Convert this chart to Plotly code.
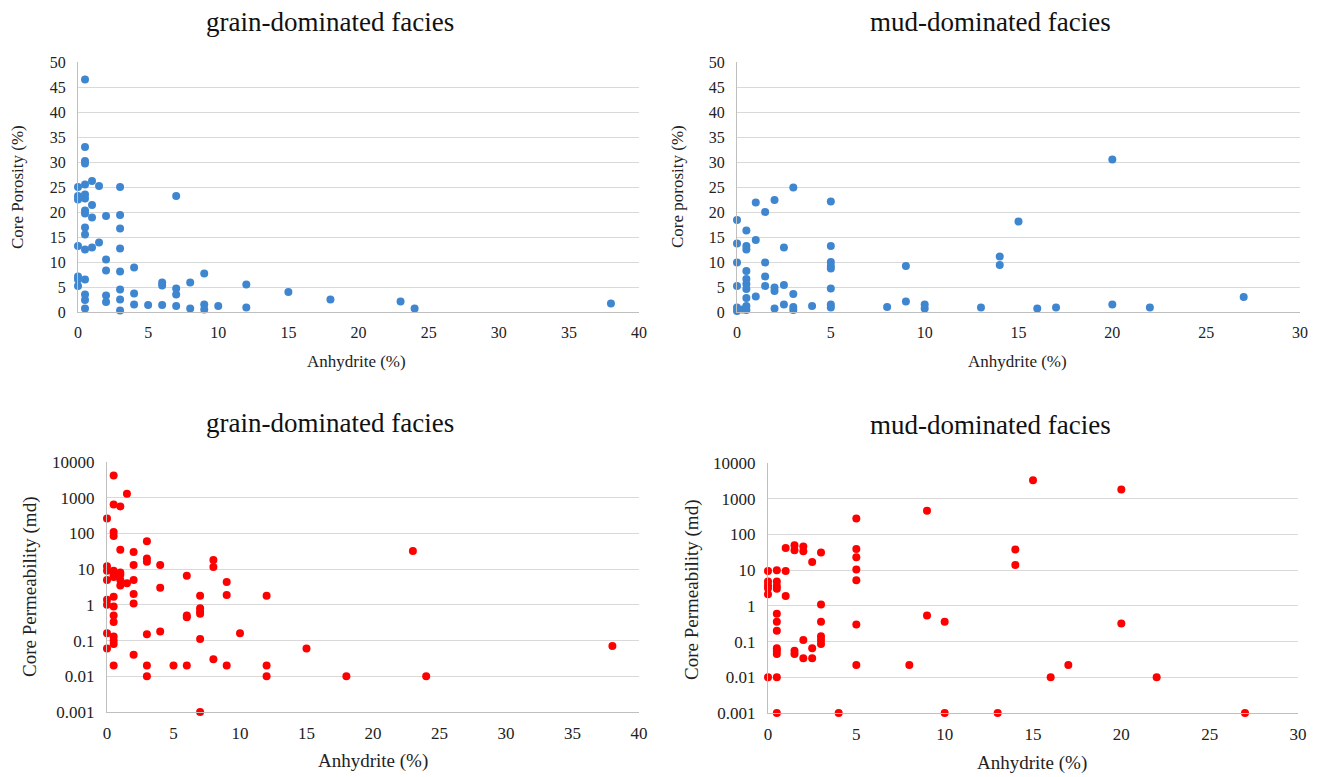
import plotly.graph_objects as go

# page is 1318x777 and the figure sits 8px in (default body margin)
OFF = 8
W, H = 1318 - OFF, 777 - OFF

# ---------------- data ----------------
grain_por_x = [0.5, 0.5, 0.5, 0.5, 0, 0.5, 1, 1.5, 3, 0, 0, 0.5, 0.5, 7, 1, 0.5, 0.5, 1, 2, 3,
               0.5, 0.5, 3, 0, 0.5, 1, 1.5, 3, 2, 2, 3, 4, 0, 0, 0, 0.5, 9, 6, 6, 8,
               7, 7, 3, 4, 0.5, 0.5, 2, 2, 3, 4, 5, 6, 7, 8, 9, 9, 10, 0.5, 3, 12,
               12, 15, 18, 23, 24, 38]
grain_por_y = [46.5, 33, 30.2, 29.7, 25, 25.5, 26.2, 25.2, 25, 23.2, 22.5, 23.5, 22.7, 23.2, 21.4, 20.3, 19.7, 18.9, 19.2, 19.4,
               16.9, 15.5, 16.7, 13.2, 12.5, 12.9, 13.9, 12.7, 10.5, 8.3, 8.1, 8.9, 7.1, 6.5, 5.2, 6.5, 7.7, 5.9, 5.3, 5.9,
               4.7, 3.5, 4.5, 3.7, 3.5, 2.4, 3.3, 2.0, 2.5, 1.5, 1.4, 1.4, 1.2, 0.7, 1.5, 0.5, 1.2, 0.7, 0.3, 5.5,
               0.9, 4.0, 2.5, 2.1, 0.7, 1.7]

mud_por_x = [0, 0.5, 0, 0.5, 0.5, 1, 1, 1.5, 2, 3, 5, 0, 1.5, 2.5, 5, 5, 5, 5, 0.5, 0.5,
             0.5, 0.5, 0.5, 0, 1.5, 1.5, 2, 2, 2.5, 3, 1, 5, 0, 0, 0.3, 0.5, 0.5, 2, 2.5, 3,
             3, 4, 5, 5, 8, 9, 9, 10, 10, 13, 14, 14, 15, 16, 17, 20, 20, 22, 27]
mud_por_y = [18.4, 16.3, 13.7, 13.2, 12.5, 21.9, 14.4, 20.0, 22.4, 24.9, 22.1, 9.9, 9.9, 12.9, 13.2, 10.0, 9.2, 8.7, 8.2, 6.6,
             5.6, 4.6, 2.8, 5.2, 7.1, 5.2, 4.9, 4.2, 5.4, 3.6, 3.1, 4.7, 0.9, 0.2, 0.5, 1.2, 0.4, 0.7, 1.5, 1.0,
             0.4, 1.2, 1.5, 0.9, 1.0, 2.1, 9.2, 1.5, 0.7, 0.9, 11.1, 9.4, 18.1, 0.7, 0.9, 30.5, 1.5, 0.9, 3.0]

grain_perm_x = [0.5, 0.5, 1, 1.5, 0, 0.5, 0.5, 1, 2, 3, 3, 3, 2, 4, 0, 0, 0, 0.5, 0.5, 0.5,
                1, 1, 1, 1.5, 1, 2, 4, 6, 8, 8, 9, 9, 2, 2, 0, 0, 0.5, 0.5, 0.5, 0.5,
                7, 7, 7, 7, 6, 6, 0, 0.5, 0.5, 0.5, 3, 4, 7, 10, 0, 2, 0.5, 3, 3, 5,
                6, 8, 9, 7, 12, 12, 12, 15, 18, 23, 24, 38]
grain_perm_y = [4200, 650, 570, 1300, 260, 110, 85, 35, 30, 60, 20, 16, 13, 13, 12, 9, 5, 9, 7, 6,
                8, 7, 5, 4, 3.5, 5, 3, 6.5, 18, 11.5, 4.4, 1.9, 2, 1.1, 1.4, 1, 1.7, 0.9, 0.5, 0.33,
                1.8, 0.8, 0.65, 0.56, 0.5, 0.45, 0.16, 0.13, 0.1, 0.08, 0.15, 0.18, 0.11, 0.16, 0.06, 0.04, 0.02, 0.02, 0.01, 0.02,
                0.02, 0.03, 0.02, 0.001, 1.8, 0.02, 0.01, 0.06, 0.01, 32, 0.01, 0.07]

mud_perm_x = [0, 0, 0, 0, 0, 0.5, 0.5, 0.5, 0.5, 1, 1, 1, 1.5, 1.5, 2, 2, 2.5, 3, 5, 5,
              5, 5, 5, 3, 0.5, 0.5, 0.5, 3, 5, 3, 3, 3, 2, 0.5, 0.5, 0.5, 1.5, 1.5, 2, 2.5,
              2.5, 5, 8, 0, 0.5, 0.5, 4, 15, 20, 9, 14, 14, 9, 10, 20, 16, 17, 22, 10, 13,
              27]
mud_perm_y = [9.4, 4.8, 3.8, 3.1, 2.1, 10, 4.8, 3.6, 3.0, 9.5, 1.9, 42, 50, 36, 46, 34, 17, 31, 280, 39,
              23, 10.5, 5.2, 1.1, 0.6, 0.36, 0.2, 0.36, 0.3, 0.14, 0.11, 0.085, 0.11, 0.065, 0.055, 0.045, 0.055, 0.045, 0.034, 0.065,
              0.034, 0.022, 0.022, 0.01, 0.01, 0.001, 0.001, 3300, 1800, 460, 38, 14, 0.54, 0.36, 0.32, 0.01, 0.022, 0.01, 0.001, 0.001,
              0.001]

por_ticks = [0, 5, 10, 15, 20, 25, 30, 35, 40, 45, 50]
perm_tickvals = [0.001, 0.01, 0.1, 1, 10, 100, 1000, 10000]
perm_ticktext = ["0.001", "0.01", "0.1", "1", "10", "100", "1000", "10000"]

titles = ["grain-dominated facies", "mud-dominated facies", "grain-dominated facies", "mud-dominated facies"]
xtitle = "Anhydrite (%)"
ytitles = ["Core Porosity (%)", "Core porosity (%)", "Core Permeability (md)", "Core Permeability (md)"]

# ---------------- styling ----------------
FONT = "Times New Roman, Liberation Serif, serif"
BLUE = "#3f86d0"
RED = "#ff0000"
GRID = "#d9d9d9"


def px_x(p):
    return (p - OFF) / W


def px_y(p):
    return 1 - (p - OFF) / H


def xd(a, b):
    return [px_x(a), px_x(b)]


def yd(top, bottom):
    return [px_y(bottom), px_y(top)]


fig = go.Figure()

fig.add_trace(go.Scatter(x=grain_por_x, y=grain_por_y, mode="markers", xaxis="x", yaxis="y",
                         marker=dict(color=BLUE, size=8), cliponaxis=False, showlegend=False))
fig.add_trace(go.Scatter(x=mud_por_x, y=mud_por_y, mode="markers", xaxis="x2", yaxis="y2",
                         marker=dict(color=BLUE, size=8), cliponaxis=False, showlegend=False))
fig.add_trace(go.Scatter(x=grain_perm_x, y=grain_perm_y, mode="markers", xaxis="x3", yaxis="y3",
                         marker=dict(color=RED, size=8), cliponaxis=False, showlegend=False))
fig.add_trace(go.Scatter(x=mud_perm_x, y=mud_perm_y, mode="markers", xaxis="x4", yaxis="y4",
                         marker=dict(color=RED, size=8), cliponaxis=False, showlegend=False))

top_tick = dict(family=FONT, size=16, color="#222")
bot_tick = dict(family=FONT, size=17, color="#222")

common_x = dict(showgrid=False, zeroline=False, showline=True, linecolor="#bfbfbf", linewidth=1,
                ticks="", dtick=5, tick0=0, ticklabelstandoff=6, automargin=False)
common_y = dict(showgrid=True, gridcolor=GRID, gridwidth=1, zeroline=False, showline=True,
                linecolor="#bfbfbf", linewidth=1, ticks="", ticklabelstandoff=8, automargin=False)

fig.update_layout(
    width=W, height=H, autosize=False,
    margin=dict(l=0, r=0, t=0, b=0, pad=0, autoexpand=False),
    paper_bgcolor="white", plot_bgcolor="white",
    xaxis=dict(domain=xd(78, 639), range=[0, 40], anchor="y", tickfont=top_tick, **common_x),
    yaxis=dict(domain=yd(62, 312), range=[0, 50], anchor="x", tickvals=por_ticks, tickfont=top_tick, **common_y),
    xaxis2=dict(domain=xd(737, 1300), range=[0, 30], anchor="y2", tickfont=top_tick, **common_x),
    yaxis2=dict(domain=yd(62, 312), range=[0, 50], anchor="x2", tickvals=por_ticks, tickfont=top_tick, **common_y),
    xaxis3=dict(domain=xd(107, 639), range=[0, 40], anchor="y3", tickfont=bot_tick, **common_x),
    yaxis3=dict(domain=yd(462, 712), type="log", range=[-3, 4], anchor="x3", tickvals=perm_tickvals,
                ticktext=perm_ticktext, tickfont=bot_tick, **common_y),
    xaxis4=dict(domain=xd(768, 1298), range=[0, 30], anchor="y4", tickfont=bot_tick, **common_x),
    yaxis4=dict(domain=yd(463, 713), type="log", range=[-3, 4], anchor="x4", tickvals=perm_tickvals,
                ticktext=perm_ticktext, tickfont=bot_tick, **common_y),
)

ann = []
title_pos = [(330, 22), (990, 22), (330, 423), (990, 425)]
for t, (px, py) in zip(titles, title_pos):
    ann.append(dict(text=t, x=px_x(px), y=px_y(py), xref="paper", yref="paper", showarrow=False,
                    xanchor="center", yanchor="middle", font=dict(family=FONT, size=27, color="#111")))

xt_pos = [(356, 362, 17), (1017, 362, 17), (373, 761, 19), (1032, 763, 19)]
for (px, py, fs) in xt_pos:
    ann.append(dict(text=xtitle, x=px_x(px), y=px_y(py), xref="paper", yref="paper", showarrow=False,
                    xanchor="center", yanchor="middle", font=dict(family=FONT, size=fs, color="#222")))

yt_pos = [(18, 187, 17), (678, 187, 17), (30, 587, 19), (692, 590, 19)]
for t, (px, py, fs) in zip(ytitles, yt_pos):
    ann.append(dict(text=t, x=px_x(px), y=px_y(py), xref="paper", yref="paper", showarrow=False,
                    textangle=-90, xanchor="center", yanchor="middle",
                    font=dict(family=FONT, size=fs, color="#222")))

fig.update_layout(annotations=ann)

fig.write_html("out.html")
